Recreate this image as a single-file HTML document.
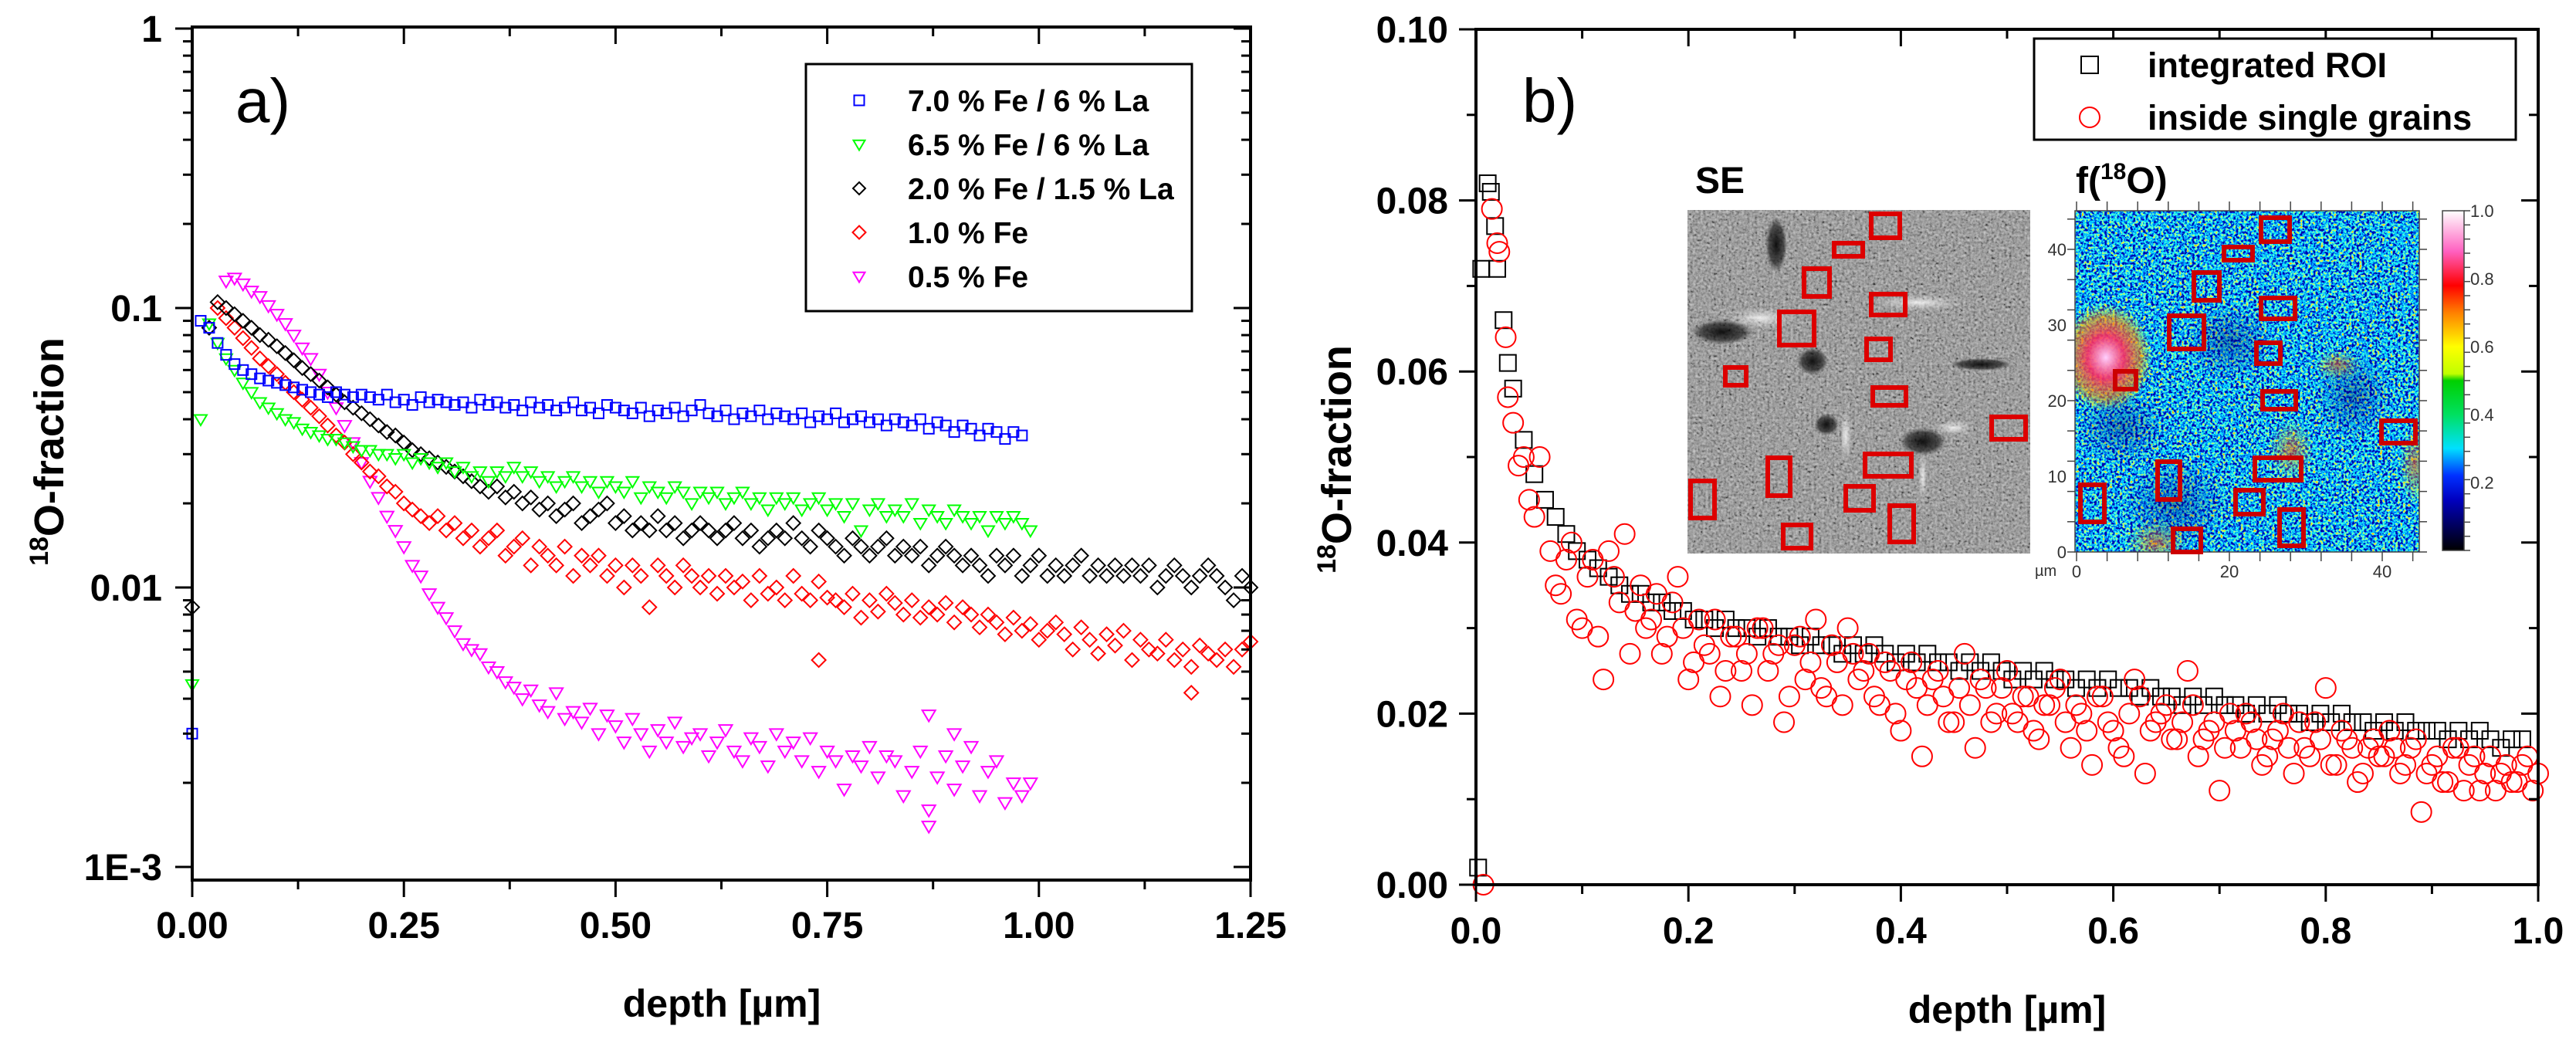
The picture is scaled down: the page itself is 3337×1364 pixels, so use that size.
<!DOCTYPE html>
<html><head><meta charset="utf-8"><style>
html,body{margin:0;padding:0;background:#fff;}
svg text{font-family:"Liberation Sans",Arial,sans-serif;}
</style></head><body>
<svg id="fig" xmlns="http://www.w3.org/2000/svg" width="3337" height="1359" viewBox="0 0 3337 1359">
<defs>
<filter id="seNoise" x="0" y="0" width="100%" height="100%">
<feTurbulence type="fractalNoise" baseFrequency="0.3" numOctaves="2" seed="3"/>
<feColorMatrix type="matrix" values="0.33 0.33 0.33 0 0  0.33 0.33 0.33 0 0  0.33 0.33 0.33 0 0  0 0 0 0 1"/>
<feComponentTransfer><feFuncR type="linear" slope="2.4" intercept="-0.7"/><feFuncG type="linear" slope="2.4" intercept="-0.7"/><feFuncB type="linear" slope="2.4" intercept="-0.7"/></feComponentTransfer>
</filter>
<filter id="hmNoise" x="0" y="0" width="100%" height="100%">
<feTurbulence type="fractalNoise" baseFrequency="0.3" numOctaves="3" seed="7"/>
<feColorMatrix type="matrix" values="0.5 0.5 0 0 0  0.5 0.5 0 0 0  0.5 0.5 0 0 0  0 0 0 0 1"/>
<feComponentTransfer><feFuncR type="linear" slope="3.2" intercept="-1.3"/><feFuncG type="linear" slope="3.2" intercept="-1.3"/><feFuncB type="linear" slope="3.2" intercept="-1.3"/></feComponentTransfer>
<feComponentTransfer>
<feFuncR type="table" tableValues="0 0 0 0 0.1 0.5 1 1"/>
<feFuncG type="table" tableValues="0 0.1 0.4 0.9 1 1 0.8 0.4"/>
<feFuncB type="table" tableValues="0.4 0.9 1 1 0.6 0.2 0 0"/>
</feComponentTransfer>
</filter>
<radialGradient id="hot"><stop offset="0" stop-color="#ffd0ff"/><stop offset="0.4" stop-color="#ff3060" stop-opacity="0.9"/><stop offset="0.75" stop-color="#ff9000" stop-opacity="0.6"/><stop offset="1" stop-color="#ffff00" stop-opacity="0"/></radialGradient>
<radialGradient id="warm"><stop offset="0" stop-color="#ff5000" stop-opacity="0.6"/><stop offset="1" stop-color="#ffff00" stop-opacity="0"/></radialGradient>
<radialGradient id="dark"><stop offset="0" stop-color="#000060" stop-opacity="0.4"/><stop offset="1" stop-color="#0000a0" stop-opacity="0"/></radialGradient>
<radialGradient id="seDark"><stop offset="0" stop-color="#000" stop-opacity="0.9"/><stop offset="0.7" stop-color="#111" stop-opacity="0.6"/><stop offset="1" stop-color="#333" stop-opacity="0"/></radialGradient>
<radialGradient id="seLight"><stop offset="0" stop-color="#fff" stop-opacity="0.8"/><stop offset="1" stop-color="#ddd" stop-opacity="0"/></radialGradient>
<linearGradient id="cbar" x1="0" y1="1" x2="0" y2="0">
<stop offset="0" stop-color="#000"/><stop offset="0.15" stop-color="#0000c0"/><stop offset="0.22" stop-color="#0030ff"/><stop offset="0.3" stop-color="#00e0ff"/><stop offset="0.4" stop-color="#00e060"/><stop offset="0.5" stop-color="#00d000"/><stop offset="0.52" stop-color="#c0ff00"/><stop offset="0.6" stop-color="#ffff00"/><stop offset="0.7" stop-color="#ff8000"/><stop offset="0.78" stop-color="#ff0000"/><stop offset="0.88" stop-color="#ff60c0"/><stop offset="1" stop-color="#fff"/>
</linearGradient>
</defs>
<g id="left"></g>
<g id="right"></g>
</svg>
<script>
// ---------- Panel a) data ----------
const aXTicks = [0, 0.25, 0.5, 0.75, 1.0, 1.25];
const aXTickLabels = ["0.00","0.25","0.50","0.75","1.00","1.25"];
const aYTicks = [1, 0.1, 0.01, 0.001];
const aYTickLabels = ["1","0.1","0.01","1E-3"];
const legendLabels = ["7.0 % Fe / 6 % La","6.5 % Fe / 6 % La","2.0 % Fe / 1.5 % La","1.0 % Fe","0.5 % Fe"];
const blueStart = 0.0, blueStep = 0.01;
const blueVals = [0.003,0.09,0.085,0.075,0.068,0.063,0.06,0.058,0.056,0.055,0.054,0.053,0.052,0.051,0.05,0.049,0.048,0.05,0.049,0.048,0.049,0.048,0.047,0.049,0.046,0.047,0.045,0.048,0.046,0.047,0.046,0.045,0.046,0.044,0.047,0.045,0.046,0.044,0.045,0.043,0.046,0.044,0.045,0.043,0.044,0.046,0.043,0.044,0.042,0.045,0.044,0.043,0.042,0.044,0.041,0.043,0.042,0.044,0.041,0.043,0.045,0.042,0.041,0.043,0.04,0.042,0.041,0.043,0.04,0.042,0.041,0.04,0.042,0.039,0.041,0.04,0.042,0.039,0.04,0.041,0.039,0.04,0.038,0.04,0.039,0.038,0.04,0.037,0.039,0.038,0.036,0.038,0.037,0.035,0.037,0.036,0.034,0.036,0.035];
const greenStart = 0.0, greenStep = 0.01;
const greenVals = [0.0045,0.04,0.088,0.075,0.066,0.06,0.054,0.05,0.046,0.044,0.042,0.04,0.039,0.037,0.036,0.035,0.034,0.034,0.033,0.032,0.031,0.031,0.03,0.03,0.029,0.03,0.028,0.029,0.028,0.027,0.028,0.026,0.027,0.025,0.026,0.024,0.026,0.025,0.027,0.025,0.026,0.024,0.025,0.023,0.024,0.025,0.023,0.024,0.022,0.024,0.023,0.022,0.024,0.021,0.023,0.022,0.021,0.023,0.022,0.02,0.022,0.021,0.022,0.02,0.021,0.022,0.02,0.021,0.019,0.021,0.02,0.021,0.019,0.02,0.021,0.019,0.02,0.018,0.02,0.016,0.019,0.02,0.018,0.019,0.018,0.02,0.017,0.019,0.018,0.017,0.019,0.018,0.017,0.018,0.016,0.018,0.017,0.018,0.017,0.016];
const blackStart = 0.02, blackStep = 0.01;
const blackVals = [0.085,0.105,0.1,0.095,0.09,0.085,0.08,0.077,0.073,0.069,0.065,0.061,0.058,0.055,0.052,0.049,0.046,0.044,0.042,0.04,0.038,0.036,0.035,0.033,0.031,0.03,0.029,0.028,0.027,0.026,0.025,0.024,0.023,0.022,0.023,0.021,0.022,0.02,0.021,0.019,0.02,0.018,0.019,0.02,0.017,0.018,0.019,0.02,0.017,0.018,0.016,0.017,0.016,0.018,0.016,0.017,0.015,0.016,0.017,0.016,0.015,0.016,0.017,0.015,0.016,0.014,0.015,0.016,0.015,0.017,0.015,0.014,0.016,0.015,0.014,0.013,0.015,0.014,0.013,0.014,0.015,0.013,0.014,0.013,0.014,0.012,0.013,0.014,0.013,0.012,0.013,0.012,0.011,0.013,0.012,0.013,0.011,0.012,0.013,0.011,0.012,0.011,0.012,0.013,0.011,0.012,0.011,0.012,0.011,0.012,0.011,0.012,0.01,0.011,0.012,0.011,0.01,0.011,0.012,0.011,0.01,0.009,0.011,0.01];
const blackExtraX = [0.0], blackExtraY = [0.0085];
const redStart = 0.03, redStep = 0.01;
const redVals = [0.1,0.092,0.085,0.078,0.072,0.066,0.062,0.058,0.054,0.05,0.047,0.044,0.041,0.038,0.035,0.033,0.03,0.028,0.026,0.025,0.023,0.022,0.02,0.019,0.018,0.017,0.018,0.016,0.017,0.015,0.016,0.014,0.015,0.016,0.013,0.014,0.015,0.012,0.014,0.013,0.012,0.014,0.011,0.013,0.012,0.013,0.011,0.012,0.01,0.012,0.011,0.0085,0.012,0.011,0.01,0.012,0.011,0.01,0.011,0.0095,0.011,0.01,0.0105,0.009,0.011,0.0095,0.01,0.009,0.011,0.0095,0.009,0.0105,0.0092,0.009,0.0085,0.0095,0.0078,0.009,0.0082,0.0095,0.0088,0.008,0.009,0.0078,0.0085,0.008,0.0088,0.0075,0.0085,0.008,0.0072,0.008,0.0075,0.0068,0.0078,0.007,0.0074,0.0065,0.007,0.0075,0.0068,0.006,0.0072,0.0065,0.0058,0.0068,0.0062,0.007,0.0055,0.0065,0.006,0.0058,0.0065,0.0055,0.006,0.0052,0.0062,0.0058,0.0055,0.006,0.0052,0.006,0.0064];
const redExtraX = [0.74,1.18], redExtraY = [0.0055,0.0042];
const magStart = 0.04, magStep = 0.01;
const magVals = [0.125,0.128,0.122,0.115,0.11,0.102,0.095,0.088,0.08,0.072,0.066,0.058,0.05,0.044,0.038,0.033,0.028,0.024,0.021,0.018,0.016,0.014,0.012,0.011,0.0095,0.0085,0.0078,0.007,0.0063,0.006,0.0058,0.0052,0.005,0.0046,0.0044,0.004,0.0043,0.0038,0.0036,0.0042,0.0034,0.0036,0.0033,0.0037,0.003,0.0035,0.0032,0.0028,0.0034,0.003,0.0026,0.0031,0.0028,0.0033,0.0027,0.0029,0.003,0.0025,0.0028,0.0031,0.0026,0.0024,0.0029,0.0027,0.0023,0.003,0.0026,0.0028,0.0024,0.0029,0.0022,0.0026,0.0024,0.0019,0.0025,0.0023,0.0027,0.0021,0.0025,0.0024,0.0018,0.0022,0.0026,0.0016,0.0021,0.0025,0.0019,0.0023,0.0027,0.0018,0.0022,0.0024,0.0017,0.002,0.0018,0.002];
const magExtraX = [0.87,0.9,0.87], magExtraY = [0.0035,0.003,0.0014];

// ---------- Panel b) data ----------
const bXTicks = [0,0.2,0.4,0.6,0.8,1.0];
const bXTickLabels = ["0.0","0.2","0.4","0.6","0.8","1.0"];
const bYTicks = [0,0.02,0.04,0.06,0.08,0.10];
const bYTickLabels = ["0.00","0.02","0.04","0.06","0.08","0.10"];
const roiStart = 0.035, roiStep = 0.01;
const roiVals = [0.058,0.052,0.048,0.045,0.043,0.041,0.039,0.038,0.037,0.036,0.035,0.034,0.034,0.033,0.033,0.032,0.032,0.031,0.031,0.03,0.031,0.03,0.03,0.029,0.03,0.029,0.029,0.028,0.029,0.028,0.028,0.027,0.028,0.027,0.028,0.027,0.026,0.027,0.026,0.027,0.026,0.026,0.025,0.026,0.025,0.026,0.025,0.024,0.025,0.024,0.025,0.024,0.024,0.023,0.024,0.023,0.024,0.023,0.023,0.022,0.023,0.022,0.022,0.021,0.022,0.021,0.022,0.021,0.021,0.02,0.021,0.02,0.021,0.02,0.02,0.019,0.02,0.019,0.02,0.019,0.019,0.018,0.019,0.018,0.019,0.018,0.018,0.018,0.017,0.018,0.017,0.018,0.017,0.016,0.017,0.017];
const roiExtraX = [0.002,0.005,0.011,0.014,0.018,0.02,0.026,0.03];
const roiExtraY = [0.002,0.072,0.082,0.081,0.077,0.072,0.066,0.061];
const grainEarlyX = [0.007,0.015,0.02,0.022,0.028,0.03,0.035,0.04,0.045,0.05,0.055,0.06];
const grainEarlyY = [0.0,0.079,0.075,0.074,0.064,0.057,0.054,0.049,0.05,0.045,0.043,0.05];
const grainAStart = 0.07, grainAStep = 0.01;
const grainAVals = [0.039,0.034,0.04,0.03,0.038,0.024,0.036,0.041,0.032,0.03,0.034,0.029,0.036,0.024,0.031,0.027,0.022,0.029,0.025,0.021,0.03,0.027,0.019,0.028,0.024,0.031,0.022,0.026,0.03,0.024,0.027,0.021,0.025,0.018,0.026,0.015,0.024,0.022,0.019,0.027,0.016,0.023,0.02,0.025,0.019,0.022,0.017,0.021,0.024,0.016,0.02,0.014,0.022,0.018,0.015,0.024,0.013,0.019,0.021,0.017,0.025,0.015,0.018,0.011,0.02,0.016,0.019,0.014,0.017,0.02,0.013,0.016,0.019,0.023,0.014,0.017,0.012,0.016,0.015,0.018,0.013,0.016,0.0085,0.014,0.012,0.016,0.011,0.015,0.013,0.011,0.014,0.012,0.015,0.013];
const grainBStart = 0.075, grainBStep = 0.01;
const grainBVals = [0.035,0.038,0.031,0.036,0.029,0.039,0.033,0.027,0.035,0.031,0.027,0.033,0.03,0.026,0.028,0.031,0.025,0.029,0.027,0.03,0.025,0.028,0.022,0.029,0.026,0.023,0.028,0.021,0.027,0.025,0.022,0.026,0.02,0.024,0.023,0.021,0.025,0.019,0.023,0.021,0.024,0.019,0.023,0.02,0.022,0.018,0.021,0.023,0.019,0.021,0.018,0.022,0.019,0.016,0.02,0.022,0.018,0.02,0.017,0.019,0.021,0.017,0.019,0.016,0.018,0.02,0.017,0.015,0.018,0.016,0.019,0.015,0.017,0.014,0.018,0.016,0.013,0.017,0.015,0.016,0.014,0.017,0.013,0.015,0.012,0.016,0.014,0.011,0.015,0.013,0.012,0.014,0.011];
const cbarLabels = ["1.0","0.8","0.6","0.4","0.2"];
const cbarValues = [1.0,0.8,0.6,0.4,0.2];
const hmYTicks = [0,10,20,30,40];
const hmXTicks = [0,20,40];

// ---------- helpers ----------
const NS = "http://www.w3.org/2000/svg";
function mk(tag, attrs, parent) {
  const e = document.createElementNS(NS, tag);
  for (const k in attrs) e.setAttribute(k, attrs[k]);
  parent.appendChild(e);
  return e;
}
function txt(s, attrs, parent) { const e = mk("text", attrs, parent); e.textContent = s; return e; }

// ---------- Panel a ----------
const L = document.getElementById("left");
const aL = 249, aR = 1620, aT = 35, aB = 1140;
const decadePx = 362, y1000 = 1123;
function ax(v) { return aL + v / 1.25 * (aR - aL); }
function ay(v) { return y1000 - (Math.log10(v) + 3) * decadePx; }

function marker(g, type, x, y, color, s) {
  let e;
  if (type === "sq") e = mk("rect", {x: x - s/2, y: y - s/2, width: s, height: s, fill: "none", stroke: color, "stroke-width": 2}, g);
  else if (type === "tri") e = mk("polygon", {points: `${x - s/2},${y - s*0.35} ${x + s/2},${y - s*0.35} ${x},${y + s*0.5}`, fill: "none", stroke: color, "stroke-width": 2}, g);
  else if (type === "dia") e = mk("polygon", {points: `${x},${y - s/2} ${x + s/2},${y} ${x},${y + s/2} ${x - s/2},${y}`, fill: "none", stroke: color, "stroke-width": 2}, g);
  else e = mk("circle", {cx: x, cy: y, r: s/2, fill: "none", stroke: color, "stroke-width": 2}, g);
  return e;
}
function seriesA(name, vals, start, step, exX, exY, type, color, s) {
  const g = mk("g", {}, L);
  
  
  vals.forEach((v, i) => { const p = marker(g, type, ax(start + i * step), ay(v), color, s);
    
     });
  exX.forEach((xv, i) => { const p = marker(g, type, ax(xv), ay(exY[i]), color, s);
    
     });
}
seriesA("series-0-5-fe", magVals, magStart, magStep, magExtraX, magExtraY, "tri", "#ff00ff", 17);
seriesA("series-1-0-fe", redVals, redStart, redStep, redExtraX, redExtraY, "dia", "#ff0000", 18);
seriesA("series-2-0-fe-1-5-la", blackVals, blackStart, blackStep, blackExtraX, blackExtraY, "dia", "#000000", 18);
seriesA("series-6-5-fe-6-la", greenVals, greenStart, greenStep, [], [], "tri", "#00ff00", 16);
seriesA("series-7-0-fe-6-la", blueVals, blueStart, blueStep, [], [], "sq", "#0000ff", 13);

const af = mk("rect", {x: aL, y: aT, width: aR - aL, height: aB - aT, fill: "none", stroke: "#000", "stroke-width": 4}, L);


for (let i = 0; i <= 10; i++) {
  const v = i * 0.125, x = ax(v), major = i % 2 === 0;
  mk("line", {x1: x, y1: aB, x2: x, y2: aB + (major ? 22 : 12), stroke: "#000", "stroke-width": 3}, L);
  mk("line", {x1: x, y1: aT, x2: x, y2: aT + (major ? 22 : 12), stroke: "#000", "stroke-width": 3}, L);
}
aXTicks.forEach((v, i) => { const t = txt(aXTickLabels[i], {x: ax(v), y: 1215, "text-anchor": "middle", "font-size": 48, "font-weight": "bold"}, L);
  
   });
for (let d = -3; d <= 0; d++) {
  for (let m = 1; m <= 9; m++) {
    const v = m * Math.pow(10, d); if (v > 1.0001) break;
    const y = ay(v), major = m === 1;
    mk("line", {x1: aL, y1: y, x2: aL - (major ? 22 : 12), y2: y, stroke: "#000", "stroke-width": 3}, L);
    mk("line", {x1: aR, y1: y, x2: aR - (major ? 22 : 12), y2: y, stroke: "#000", "stroke-width": 3}, L);
  }
}
aYTicks.forEach((v, i) => { const t = txt(aYTickLabels[i], {x: 210, y: ay(v) + 17, "text-anchor": "end", "font-size": 48, "font-weight": "bold"}, L);
  
   });
{
  const t = txt("depth [µm]", {x: 935, y: 1317, "text-anchor": "middle", "font-size": 50, "font-weight": "bold"}, L);
   
  const yt = mk("text", {transform: "translate(82,585) rotate(-90)", "text-anchor": "middle", "font-size": 54, "font-weight": "bold"}, L);
   
  const s1 = mk("tspan", {"font-size": 34, dy: -20}, yt); s1.textContent = "18";
  const s2 = mk("tspan", {dy: 20}, yt); s2.textContent = "O-fraction";
  const pl = txt("a)", {x: 305, y: 158, "font-size": 80}, L);
   
}
{
  const lg = mk("g", {}, L);
   
  mk("rect", {x: 1044, y: 83, width: 500, height: 320, fill: "#fff", stroke: "#000", "stroke-width": 3}, lg);
  const types = ["sq","tri","dia","dia","tri"], cols = ["#0000ff","#00ff00","#000","#ff0000","#ff00ff"], sizes = [13,15,16,17,15];
  legendLabels.forEach((lab, i) => {
    const y = 130 + i * 57;
    const e = mk("g", {}, lg);
     
    marker(e, types[i], 1113, y, cols[i], sizes[i]);
    txt(lab, {x: 1176, y: y + 14, "font-size": 39, "font-weight": "bold"}, e);
  });
}

// ---------- Panel b ----------
const R = document.getElementById("right");
const bL = 1912, bR = 3288, bT = 38, bB = 1146;
function bx(v) { return bL + v * (bR - bL); }
function by(v) { return bB - v / 0.1 * (bB - bT); }

{
  const g = mk("g", {}, R);
   
  const X = 2186, Y = 272, W = 444, H = 445;
  const cp = mk("clipPath", {id: "seclip"}, g); mk("rect", {x: X, y: Y, width: W, height: H}, cp);
  const gg = mk("g", {"clip-path": "url(#seclip)"}, g);
  mk("rect", {x: X, y: Y, width: W, height: H, fill: "#7c7c7c"}, gg);
  mk("rect", {x: X, y: Y, width: W, height: H, filter: "url(#seNoise)", opacity: 0.55}, gg);
  const blobs = [[115,45,14,36,"seDark"],[45,158,40,16,"seDark"],[162,196,20,18,"seDark"],[180,278,16,14,"seDark"],[305,300,30,18,"seDark"],[95,140,45,14,"seLight"],[205,292,8,34,"seLight"],[345,282,26,10,"seLight"],[305,345,6,34,"seLight"],[300,120,60,10,"seLight"],[380,200,40,8,"seDark"]];
  blobs.forEach(b => mk("ellipse", {cx: X + b[0], cy: Y + b[1], rx: b[2], ry: b[3], fill: `url(#${b[4]})`}, gg));
  const t = txt("SE", {x: 2196, y: 250, "font-size": 48, "font-weight": "bold", "font-family": "Liberation Serif, serif"}, R);
   
}
const roiRects = [[235,2,43,37],[187,40,43,23],[148,73,39,42],[235,106,50,33],[116,129,51,49],[229,164,37,33],[46,201,33,29],[237,227,49,29],[391,265,50,35],[227,313,66,35],[101,318,35,55],[1,348,37,54],[202,355,42,37],[259,380,37,53],[121,405,42,36]];
roiRects.forEach(r => { const e = mk("rect", {x: 2186 + r[0] + 3, y: 272 + r[1] + 3, width: r[2] - 6, height: r[3] - 6, fill: "none", stroke: "#dd0000", "stroke-width": 6}, R);
    });
{
  const g = mk("g", {}, R);
   
  const X = 2688, Y = 273, W = 446, H = 442;
  const cp = mk("clipPath", {id: "hmclip"}, g); mk("rect", {x: X, y: Y, width: W, height: H}, cp);
  const gg = mk("g", {"clip-path": "url(#hmclip)"}, g);
  mk("rect", {x: X, y: Y, width: W, height: H, fill: "#20c0e0"}, gg);
  mk("rect", {x: X, y: Y, width: W, height: H, filter: "url(#hmNoise)"}, gg);
  [[40,190,60,70,"hot"],[105,430,40,30,"warm"],[440,330,20,50,"warm"],[340,200,30,20,"warm"],[280,310,30,40,"warm"],[130,380,70,60,"dark"],[360,240,50,60,"dark"],[200,170,60,50,"dark"],[60,280,60,50,"dark"]].forEach(b =>
    mk("ellipse", {cx: X + b[0], cy: Y + b[1], rx: b[2], ry: b[3], fill: `url(#${b[4]})`}, gg));
  mk("rect", {x: X, y: Y, width: W, height: H, fill: "none", stroke: "#444", "stroke-width": 1.5}, g);
  for (let u = 0; u <= 45; u += 4) {
    const yy = 715 - u * 9.8;
    if (u <= 44) { mk("line", {x1: X - 10, y1: yy, x2: X, y2: yy, stroke: "#444", "stroke-width": 1.5}, g); mk("line", {x1: X + W, y1: yy, x2: X + W + 10, y2: yy, stroke: "#444", "stroke-width": 1.5}, g); }
    const xx = 2690 + u * 9.9;
    mk("line", {x1: xx, y1: Y - 12, x2: xx, y2: Y, stroke: "#444", "stroke-width": 1.5}, g);
    mk("line", {x1: xx, y1: Y + H, x2: xx, y2: Y + H + 12, stroke: "#444", "stroke-width": 1.5}, g);
  }
  hmYTicks.forEach(v => txt(String(v), {x: 2677, y: 715 - v * 9.8 + 8, "text-anchor": "end", "font-size": 22, fill: "#333"}, g));
  hmXTicks.forEach(v => txt(String(v), {x: 2690 + v * 9.9, y: 748, "text-anchor": "middle", "font-size": 22, fill: "#333"}, g));
  txt("µm", {x: 2636, y: 746, "font-size": 20, fill: "#333"}, g);
  const cb = mk("g", {}, R);
   
  mk("rect", {x: 3164, y: 273, width: 28, height: 440, fill: "url(#cbar)", stroke: "#444", "stroke-width": 1.5}, cb);
  for (let k = 0; k <= 24; k++) { const yy = 713 - k * 440 / 24; mk("line", {x1: 3192, y1: yy, x2: 3200, y2: yy, stroke: "#444", "stroke-width": 1.5}, cb); }
  cbarValues.forEach((v, i) => txt(cbarLabels[i], {x: 3200, y: 713 - v * 440 + 8, "font-size": 22, fill: "#333"}, cb));
  const t = mk("text", {x: 2689, y: 250, "font-size": 48, "font-weight": "bold", "font-family": "Liberation Serif, serif"}, R);
   
  const a1 = mk("tspan", {}, t); a1.textContent = "f(";
  const a2 = mk("tspan", {"font-size": 30, dy: -18}, t); a2.textContent = "18";
  const a3 = mk("tspan", {dy: 18}, t); a3.textContent = "O)";
}
roiRects.forEach(r => { const e = mk("rect", {x: 2688 + r[0] + 6, y: 273 + r[1] + 7, width: r[2] - 6, height: r[3] - 6, fill: "none", stroke: "#cc0000", "stroke-width": 6}, R);
    });

{
  const g = mk("g", {}, R);
   
  roiVals.forEach((v, i) => { const p = marker(g, "sq", bx(roiStart + i * roiStep), by(v), "#000", 21);
      });
  roiExtraX.forEach((xv, i) => { const p = marker(g, "sq", bx(xv), by(roiExtraY[i]), "#000", 21);
      });
  const h = mk("g", {}, R);
   
  grainEarlyX.forEach((xv, i) => { const p = marker(h, "ci", bx(xv), by(grainEarlyY[i]), "#ff0000", 26);
      });
  grainAVals.forEach((v, i) => { const p = marker(h, "ci", bx(grainAStart + i * grainAStep), by(v), "#ff0000", 26);
      });
  grainBVals.forEach((v, i) => { const p = marker(h, "ci", bx(grainBStart + i * grainBStep), by(v), "#ff0000", 26);
      });
}
{
  const f = mk("rect", {x: bL, y: bT, width: bR - bL, height: bB - bT, fill: "none", stroke: "#000", "stroke-width": 4}, R);
   
  for (let i = 0; i <= 10; i++) {
    const x = bx(i * 0.1), major = i % 2 === 0;
    mk("line", {x1: x, y1: bB, x2: x, y2: bB + (major ? 22 : 12), stroke: "#000", "stroke-width": 3}, R);
    mk("line", {x1: x, y1: bT, x2: x, y2: bT + (major ? 22 : 12), stroke: "#000", "stroke-width": 3}, R);
  }
  for (let i = 0; i <= 10; i++) {
    const y = by(i * 0.01), major = i % 2 === 0;
    mk("line", {x1: bL, y1: y, x2: bL - (major ? 22 : 12), y2: y, stroke: "#000", "stroke-width": 3}, R);
    mk("line", {x1: bR, y1: y, x2: bR - (major ? 22 : 12), y2: y, stroke: "#000", "stroke-width": 3}, R);
  }
  bXTicks.forEach((v, i) => { const t = txt(bXTickLabels[i], {x: bx(v), y: 1222, "text-anchor": "middle", "font-size": 48, "font-weight": "bold"}, R);
      });
  bYTicks.forEach((v, i) => { const t = txt(bYTickLabels[i], {x: 1876, y: by(v) + 17, "text-anchor": "end", "font-size": 48, "font-weight": "bold"}, R);
      });
  const xt = txt("depth [µm]", {x: 2600, y: 1325, "text-anchor": "middle", "font-size": 50, "font-weight": "bold"}, R);
   
  const yt = mk("text", {transform: "translate(1750,595) rotate(-90)", "text-anchor": "middle", "font-size": 54, "font-weight": "bold"}, R);
   
  const s1 = mk("tspan", {"font-size": 34, dy: -20}, yt); s1.textContent = "18";
  const s2 = mk("tspan", {dy: 20}, yt); s2.textContent = "O-fraction";
  const pl = txt("b)", {x: 1972, y: 158, "font-size": 80}, R);
   
  const lg = mk("g", {}, R);
   
  mk("rect", {x: 2635, y: 50, width: 624, height: 131, fill: "#fff", stroke: "#000", "stroke-width": 3}, lg);
  const e1 = mk("g", {}, lg);
   
  marker(e1, "sq", 2707, 84, "#000", 22);
  txt("integrated ROI", {x: 2782, y: 100, "font-size": 45, "font-weight": "bold"}, e1);
  const e2 = mk("g", {}, lg);
   
  marker(e2, "ci", 2707, 152, "#ff0000", 26);
  txt("inside single grains", {x: 2782, y: 168, "font-size": 45, "font-weight": "bold"}, e2);
}
</script>
</body></html>
